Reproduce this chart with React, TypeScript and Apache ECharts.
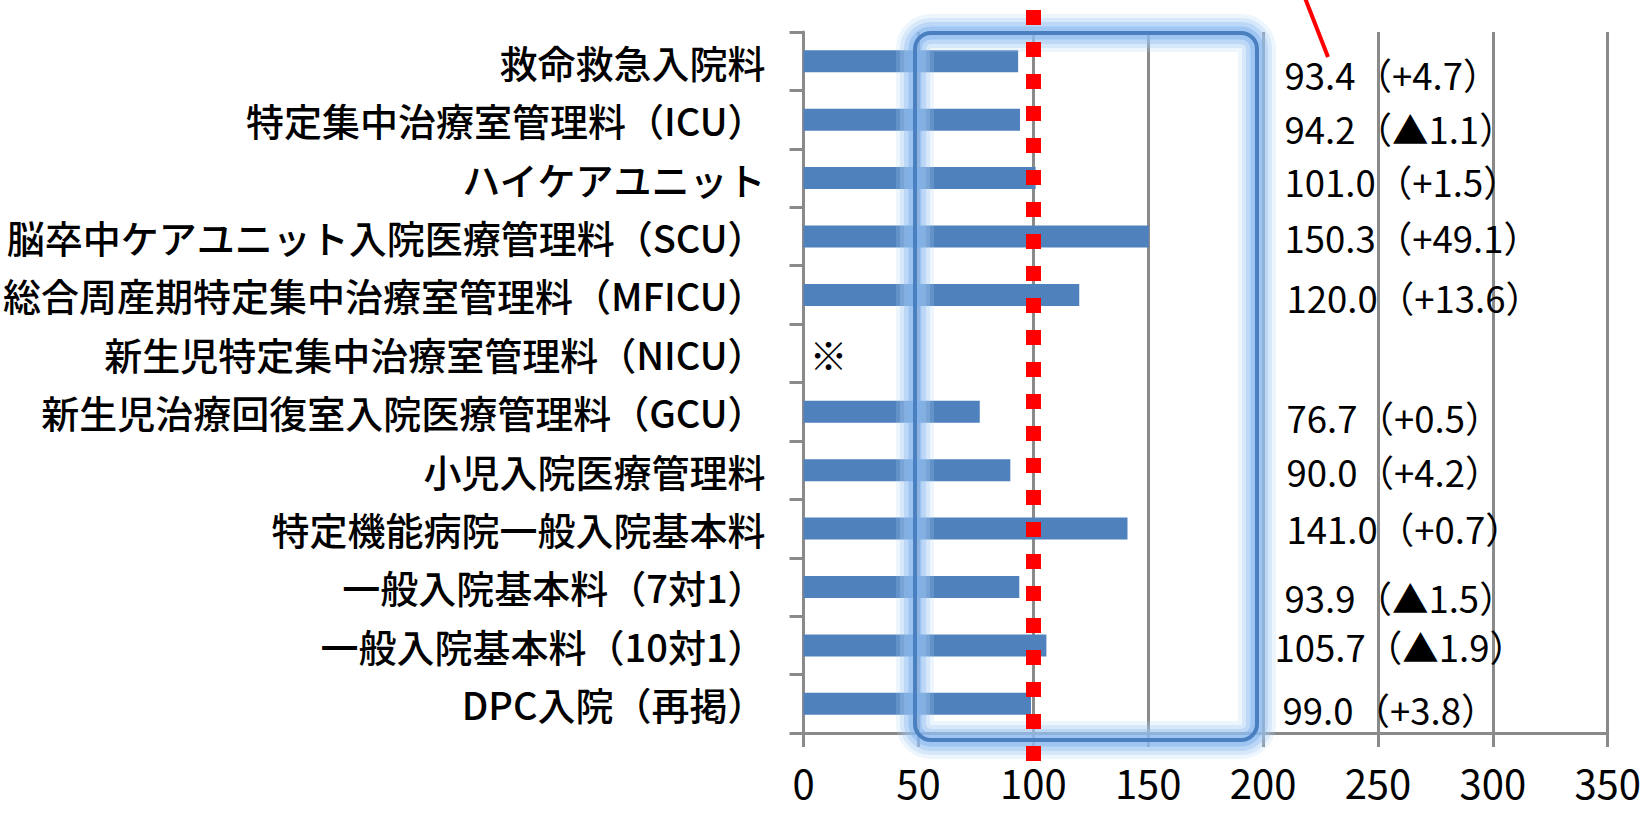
import React, { useEffect, useRef } from "react";
import * as echarts from "echarts";

const categories = [
  "救命救急入院料",
  "特定集中治療室管理料（ICU）",
  "ハイケアユニット",
  "脳卒中ケアユニット入院医療管理料（SCU）",
  "総合周産期特定集中治療室管理料（MFICU）",
  "新生児特定集中治療室管理料（NICU）",
  "新生児治療回復室入院医療管理料（GCU）",
  "小児入院医療管理料",
  "特定機能病院一般入院基本料",
  "一般入院基本料（7対1）",
  "一般入院基本料（10対1）",
  "DPC入院（再掲）",
];
const values: (number | null)[] = [93.4, 94.2, 101.0, 150.3, 120.0, null, 76.7, 90.0, 141.0, 93.9, 105.7, 99.0];
const changes = ["+4.7", "▲1.1", "+1.5", "+49.1", "+13.6", "", "+0.5", "+4.2", "+0.7", "▲1.5", "▲1.9", "+3.8"];
const noDataMark = "※";
const xMin = 0;
const xMax = 350;
const xInterval = 50;
const referenceValue = 100;

// label nudges (style only): [dx, dy] in px
const labelNudge = [
  [0, 13], [0, 9], [0, 3], [0, 1], [2, 3], [0, 0],
  [2, 6], [2, 1], [2, 0], [0, 11], [-10, 1], [-2, 6],
];

const GRAY = "#8a8a8a";
const FONT = "'Noto Sans CJK JP', 'Noto Sans', sans-serif";

const frame = { x: 915, y: 33, width: 342, height: 707, r: 16 };
const glowLayers = [
  { w: 38, c: "rgba(175,208,246,0.22)" },
  { w: 30, c: "rgba(165,202,245,0.30)" },
  { w: 22, c: "rgba(150,192,242,0.40)" },
  { w: 13, c: "rgba(130,180,240,0.50)" },
];

export default function App() {
  const ref = useRef<HTMLDivElement>(null);
  useEffect(() => {
    document.body.style.margin = "0";
    const chart = echarts.init(ref.current!, null, { renderer: "svg" });
    const data = values.map((v, i) =>
      v == null
        ? {
            value: 0,
            label: {
              show: true,
              formatter: noDataMark,
              position: [6, 11],
              fontSize: 38,
              align: "left",
              verticalAlign: "middle",
            },
          }
        : {
            value: v,
            label: {
              show: true,
              position: [481 + labelNudge[i][0], 11 + labelNudge[i][1]],
              formatter: `${v.toFixed(1)}（${changes[i]}）`,
              fontSize: 36.5,
              lineHeight: 36,
              align: "left",
              verticalAlign: "middle",
            },
          }
    );
    const glow = glowLayers.map((g) => ({
      type: "rect",
      z: 4,
      silent: true,
      shape: frame,
      style: { fill: "none", stroke: g.c, lineWidth: g.w },
    }));
    chart.setOption({
      animation: false,
      textStyle: { fontFamily: FONT },
      grid: { left: 800, right: 32, top: 32, bottom: 80, containLabel: false },
      xAxis: {
        type: "value",
        min: xMin,
        max: xMax,
        interval: xInterval,
        axisLine: { show: true, lineStyle: { color: GRAY, width: 3 } },
        axisTick: { show: true, length: 14, lineStyle: { color: GRAY, width: 3 } },
        splitLine: { show: true, lineStyle: { color: GRAY, width: 3 } },
        axisLabel: { fontSize: 40, lineHeight: 40, color: "#000", margin: 29, fontFamily: FONT },
      },
      yAxis: {
        type: "category",
        data: categories,
        inverse: true,
        axisLine: { show: true, lineStyle: { color: GRAY, width: 3 } },
        axisTick: { show: true, length: 14, alignWithLabel: false, lineStyle: { color: GRAY, width: 3 } },
        axisLabel: {
          fontSize: 38,
          lineHeight: 40,
          fontWeight: 500,
          color: "#000",
          margin: 38,
          padding: [0, 0, 6, 0],
          fontFamily: FONT,
        },
        splitLine: { show: false },
      },
      series: [
        {
          type: "bar",
          data,
          barWidth: 22,
          itemStyle: { color: "#4f81bd" },
          label: { color: "#000", fontFamily: FONT },
          markLine: {
            silent: true,
            symbol: ["none", "none"],
            label: { show: false },
            z: 6,
            lineStyle: { color: "#ff0000", width: 15, type: [15, 17], cap: "butt" },
            data: [[{ xAxis: referenceValue, y: 10 }, { xAxis: referenceValue, y: 761 }]],
          },
        },
      ],
      graphic: [
        ...glow,
        {
          type: "rect",
          z: 5,
          silent: true,
          shape: frame,
          style: { fill: "none", stroke: "#4a7fc0", lineWidth: 4 },
        },
        {
          type: "line",
          z: 10,
          silent: true,
          shape: { x1: 1305, y1: -2, x2: 1328, y2: 57 },
          style: { stroke: "#ff0000", lineWidth: 4 },
        },
      ],
    });
    return () => chart.dispose();
  }, []);
  return (
    <div
      ref={ref}
      style={{ position: "absolute", left: 0, top: 0, width: 1644, height: 813 }}
    />
  );
}
